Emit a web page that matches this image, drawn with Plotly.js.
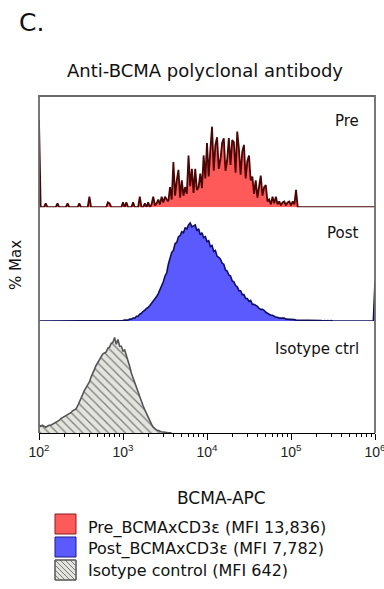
<!DOCTYPE html>
<html><head><meta charset="utf-8">
<script src="https://cdn.plot.ly/plotly-3.0.1.min.js"></script>
<style>html,body{margin:0;padding:0;background:#fff;} #chart{width:384px;height:589px;}</style>
</head><body><div id="chart"></div>
<script>
// Histogram channels: log10(BCMA-APC) bins
const binStartLog = 2.0;
const binStepLog = 0.02;
const tickExponents = [2, 3, 4, 5, 6];
const panelLabels = ['Pre', 'Post', 'Isotype ctrl'];
const legendLabels = ['Pre_BCMAxCD3ε (MFI 13,836)', 'Post_BCMAxCD3ε (MFI 7,782)', 'Isotype control (MFI 642)'];

// % Max per channel
const preValues = [
91,0,0,0,4,0,0,0,0,0,
0,4,0,0,0,0,0,4,0,0,
0,0,0,0,4,0,0,0,0,0,
11,0,0,0,0,0,0,0,0,0,
0,5,4,0,0,0,0,0,0,0,
5,0,5,0,0,0,5,0,0,0,
11,0,0,4,0,5,0,3,11,2,
4,8,3,11,5,11,8,6,21,8,
47,12,28,39,10,28,12,21,14,54,
22,40,15,40,18,21,35,20,54,30,
67,32,60,84,38,65,73,40,50,67,
72,38,49,72,44,70,68,36,79,61,
34,58,65,30,48,54,28,32,14,28,
10,22,33,12,21,23,6,8,3,11,
4,11,3,6,2,5,6,2,5,6,
2,6,3,18,0,0,0,0,0,0,
0,0,0,0,0,0,0,0,0,0,
0,0,0,0,0,0,0,0,0,0,
0,0,0,0,0,0,0,0,0,0,
0,0,0,0,0,0,0,0,0,0,
0];

const postValues = [
0,0,0,0,0,0,0,0,0,0,
0,0,0,0,0,0,0,0,0,0,
0,0,0,0,0,0,0,0,0,0,
0,0,0,0,0,0,0,0,0,0,
0,0,0,0,0,0,0,0,0.5,0.5,
0.5,1,1,1,2,2,3,3,5,5,
7,8,10,11,13,14,16,18,20,22,
25,28,32,35,40,46,49,58,64,70,
72,79,80,86,87,91,90,95,94,98,
100,96,97,98,92,94,88,90,85,86,
81,82,76,77,71,72,66,65,63,59,
58,52,51,47,46,41,40,36,35,31,
31,27,27,23,23,20,21,17,17,16,
15,13,12,12,11,9,8,7,6,6,
5,4,4,3,3,3,3,2,2,2,
2,1.5,1.5,1,1,1,1,1,1,0.5,
1,0.5,0.5,0.5,0.5,0.5,0.5,0.5,0.5,0,
0.5,0,0.5,0,0.5,0,0,0.5,0,0,
0.5,0,0,0.5,0,0,0,0.5,0,0,
0,0.5,0,0,0,0,0,0,0,0,
40];

const isoValues = [
8,7,8,7,6,7,8,8,9,10,
11,12,13,15,16,17,18,19,20,21,
23,24,25,28,32,36,41,44,47,50,
53,58,63,66,70,73,76,80,82,83,
84,88,89,93,94,99,92,97,90,90,
85,86,81,76,69,62,57,52,46,43,
38,32,28,24,20,17,12,9,6,4,
3,2.5,1.5,1,1,0.5,0.5,0.3,0.2,0];

function binX(values) { return values.map((v, i) => Math.pow(10, binStartLog + i * binStepLog)); }

// pixel -> paper helpers (plot area: x 39..375, y 96..433)
const PL = 39, PR = 375, PT = 96, PB = 433;
const px2x = p => (p - PL) / (PR - PL);
const py2y = p => (PB - p) / (PB - PT);

const FONT = 'DejaVu Sans, sans-serif';

const traces = [
  {x: binX(preValues), y: preValues, yaxis: 'y3', type: 'scatter', mode: 'lines',
   line: {color: '#4a0505', width: 1.8}, fill: 'tozeroy', fillcolor: '#ff5a5a', hoverinfo: 'skip', showlegend: false},
  {x: binX(postValues), y: postValues, yaxis: 'y2', type: 'scatter', mode: 'lines',
   line: {color: '#101060', width: 1.6}, fill: 'tozeroy', fillcolor: '#5a5aff', hoverinfo: 'skip', showlegend: false},
  {x: binX(isoValues), y: isoValues, yaxis: 'y', type: 'scatter', mode: 'lines',
   line: {color: '#555555', width: 1.6}, fill: 'tozeroy', fillcolor: '#e4e4de',
   fillpattern: {shape: '\\', fgcolor: '#7a7a7a', bgcolor: '#e4e4de', size: 6, solidity: 0.2},
   hoverinfo: 'skip', showlegend: false}
];

function hatchPath(x0, y0, x1, y1, gap) {
  let d = '';
  const w = x1 - x0, h = y1 - y0;
  for (let k = -h; k < w; k += gap) {
    const tS = Math.max(0, -k), tE = Math.min(h, w - k);
    if (tE <= tS) continue;
    d += `M${px2x(x0 + k + tS)},${py2y(y0 + tS)}L${px2x(x0 + k + tE)},${py2y(y0 + tE)}`;
  }
  return d;
}

const swatchColors = [['#ff5a5a', '#8b1a1a'], ['#5a5aff', '#1a1a8b'], ['#e4e4de', '#555555']];
const swatchTop = [514, 537, 560];
const shapes = [
  {type: 'path', xref: 'paper', yref: 'paper', path: 'M0,0L0,1L1,1L1,0', line: {color: '#6a6a6a', width: 1.8}, layer: 'above'}
];
swatchTop.forEach((t, i) => {
  shapes.push({type: 'rect', xref: 'paper', yref: 'paper', x0: px2x(55), x1: px2x(76), y0: py2y(t), y1: py2y(t + 20),
    fillcolor: swatchColors[i][0], line: {color: swatchColors[i][1], width: 1}});
});
shapes.push({type: 'path', xref: 'paper', yref: 'paper', path: hatchPath(55, 560, 76, 580, 5), line: {color: '#7a7a7a', width: 1}});
shapes.push({type: 'rect', xref: 'paper', yref: 'paper', x0: px2x(55), x1: px2x(76), y0: py2y(560), y1: py2y(580),
    line: {color: '#555555', width: 1}});

const annotations = [
  {text: 'C.', x: px2x(17), y: py2y(23), xanchor: 'left', yanchor: 'middle', font: {family: FONT, size: 25, color: '#111'}},
  {text: 'Anti-BCMA polyclonal antibody', x: px2x(205), y: py2y(70), xanchor: 'center', yanchor: 'middle', font: {family: FONT, size: 18, color: '#111'}},
  {text: '% Max', x: px2x(16), y: py2y(265), xanchor: 'center', yanchor: 'middle', textangle: -90, font: {family: FONT, size: 15, color: '#111'}},
  {text: 'BCMA-APC', x: px2x(221), y: py2y(498), xanchor: 'center', yanchor: 'middle', font: {family: FONT, size: 17, color: '#111'}},
  {text: panelLabels[0], x: px2x(361), y: py2y(121), xanchor: 'right', yanchor: 'middle', font: {family: FONT, size: 15, color: '#111'}},
  {text: panelLabels[1], x: px2x(361), y: py2y(233), xanchor: 'right', yanchor: 'middle', font: {family: FONT, size: 15, color: '#111'}},
  {text: panelLabels[2], x: px2x(361), y: py2y(349), xanchor: 'right', yanchor: 'middle', font: {family: FONT, size: 15, color: '#111'}}
];
const legendY = [528, 549, 570];
legendLabels.forEach((t, i) => annotations.push({text: t, x: px2x(86), y: py2y(legendY[i]), xanchor: 'left', yanchor: 'middle',
  font: {family: FONT, size: 16, color: '#111'}}));
annotations.forEach(a => { a.xref = 'paper'; a.yref = 'paper'; a.showarrow = false; });

const yBase = {range: [0, 116], showticklabels: false, showline: false, showgrid: false, zeroline: false, ticks: '', fixedrange: true};
const layout = {
  width: 384, height: 589,
  margin: {l: PL, r: 384 - PR, t: PT, b: 589 - PB, pad: 0},
  paper_bgcolor: '#fff', plot_bgcolor: '#fff',
  showlegend: false,
  xaxis: {type: 'log', range: [2, 6], anchor: 'y', showline: true, linecolor: '#000', linewidth: 1,
    ticks: 'outside', ticklen: 6, tickwidth: 1, tickcolor: '#000', ticklabeloverflow: 'allow',
    tickmode: 'array', tickvals: tickExponents.map(e => Math.pow(10, e)), ticktext: tickExponents.map(e => '10<sup>' + e + '</sup>'),
    tickfont: {family: 'Liberation Sans, Arial, sans-serif', size: 14, color: '#222'},
    minor: {dtick: 'D1', ticks: 'outside', ticklen: 3, tickwidth: 1, tickcolor: '#000', showgrid: false},
    showgrid: false, zeroline: false, fixedrange: true},
  yaxis: Object.assign({domain: [0, 0.332]}, yBase),
  yaxis2: Object.assign({domain: [0.332, 0.67]}, yBase),
  yaxis3: Object.assign({domain: [0.67, 1]}, yBase),
  shapes: shapes,
  annotations: annotations
};
Plotly.newPlot('chart', traces, layout, {staticPlot: true, displayModeBar: false});
</script></body></html>
